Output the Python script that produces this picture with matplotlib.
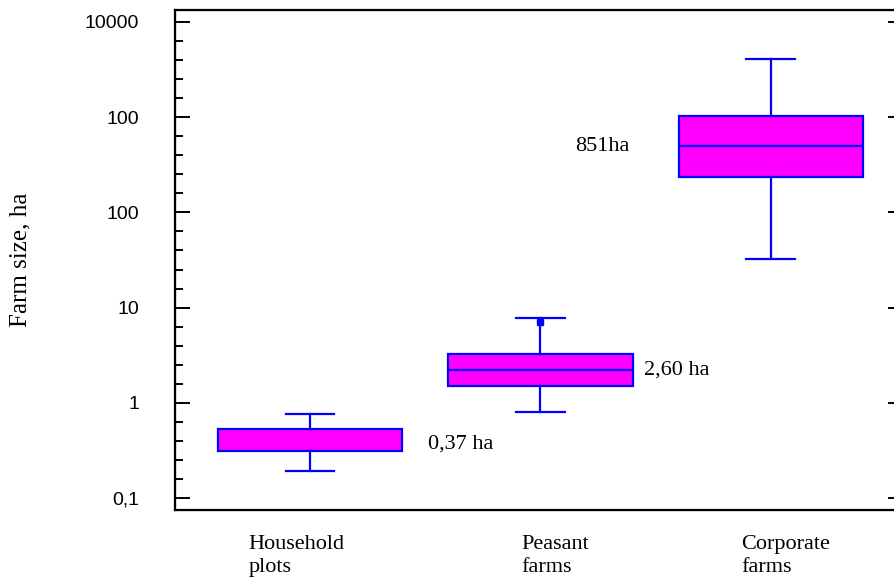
import numpy as np
import matplotlib.pyplot as plt

# farm groups and box statistics (ha)
groups = ["Household\nplots", "Peasant\nfarms", "Corporate\nfarms"]
whis_low = [0.19, 0.80, 32.4]
q1 = [0.31, 1.50, 235]
median = [0.37, 2.21, 498]
q3 = [0.53, 3.26, 1030]
whis_high = [0.76, 7.78, 4085]
outliers = [[], [7.06], []]
median_labels = ["0,37 ha", "2,60 ha", "851ha"]

ytick_vals = [0.1, 1, 10, 100, 1000, 10000]
ytick_labels = ["0,1", "1", "10", "100", "100", "10000"]

positions = np.arange(1, len(groups) + 1)

fig = plt.figure(figsize=(8.95, 5.82), dpi=100)
ax = fig.add_axes([175 / 895, 72 / 582, 721 / 895, 500 / 582])

stats = []
for i in range(len(groups)):
    stats.append(dict(whislo=whis_low[i], q1=q1[i], med=median[i], q3=q3[i],
                      whishi=whis_high[i], fliers=outliers[i]))

blue = "#0000ff"
bp = ax.bxp(stats, positions=positions, widths=0.8, capwidths=0.21,
            patch_artist=True, showfliers=True,
            boxprops=dict(facecolor="#ff00ff", edgecolor=blue, linewidth=1.6),
            whiskerprops=dict(color=blue, linewidth=1.6),
            capprops=dict(color=blue, linewidth=1.6),
            medianprops=dict(color=blue, linewidth=1.6),
            flierprops=dict(marker="s", markersize=4, markerfacecolor=blue,
                            markeredgecolor=blue))
# the household box has no median line drawn
bp["medians"][0].set_visible(False)

ax.set_yscale("log")
ax.set_yticks(ytick_vals)
ax.set_yticklabels(ytick_labels, fontfamily="Liberation Sans", fontsize=14)
minor = [10 ** (k + j / 5) for k in range(-2, 5) for j in range(1, 5)]
ax.set_yticks(minor, minor=True)
ax.yaxis.set_minor_formatter(plt.NullFormatter())
ax.tick_params(axis="y", which="major", direction="in", length=11, width=1.4, pad=26)
ax.tick_params(axis="y", which="minor", direction="in", length=6, width=1.4)

ylim = (10 ** (-1 - 12 / 95.2), 10 ** (4 + 12 / 95.2))
ax.set_ylim(ylim)
ax.set_xlim(0.412, 3.545)

# right-hand short ticks
ax2 = ax.twinx()
ax2.set_yscale("log")
ax2.set_yticks(ytick_vals)
ax2.set_yticklabels([])
ax2.yaxis.set_minor_locator(plt.NullLocator())
ax2.tick_params(axis="y", direction="in", length=6, width=1.4)
ax2.set_ylim(ylim)
for a in (ax, ax2):
    a.spines["right"].set_visible(False)

# x labels, left aligned, no tick marks
label_x = [0.73, 1.917, 2.874]
ax.set_xticks(label_x)
ax.set_xticklabels(groups, ha="left", fontfamily="Liberation Serif",
                   fontsize=16, linespacing=1.3)
ax.tick_params(axis="x", length=0, pad=18)

for s in ["left", "bottom", "top"]:
    ax.spines[s].set_linewidth(1.6)

label_dx = [0.51, 0.45, -0.85]
for i in range(len(groups)):
    ax.text(positions[i] + label_dx[i], median[i], median_labels[i],
            ha="left", va="center", fontfamily="Liberation Serif", fontsize=16)

ax.set_ylabel("Farm size, ha", fontfamily="Liberation Serif", fontsize=18,
              labelpad=38)

fig.savefig("out.png", dpi=100)
